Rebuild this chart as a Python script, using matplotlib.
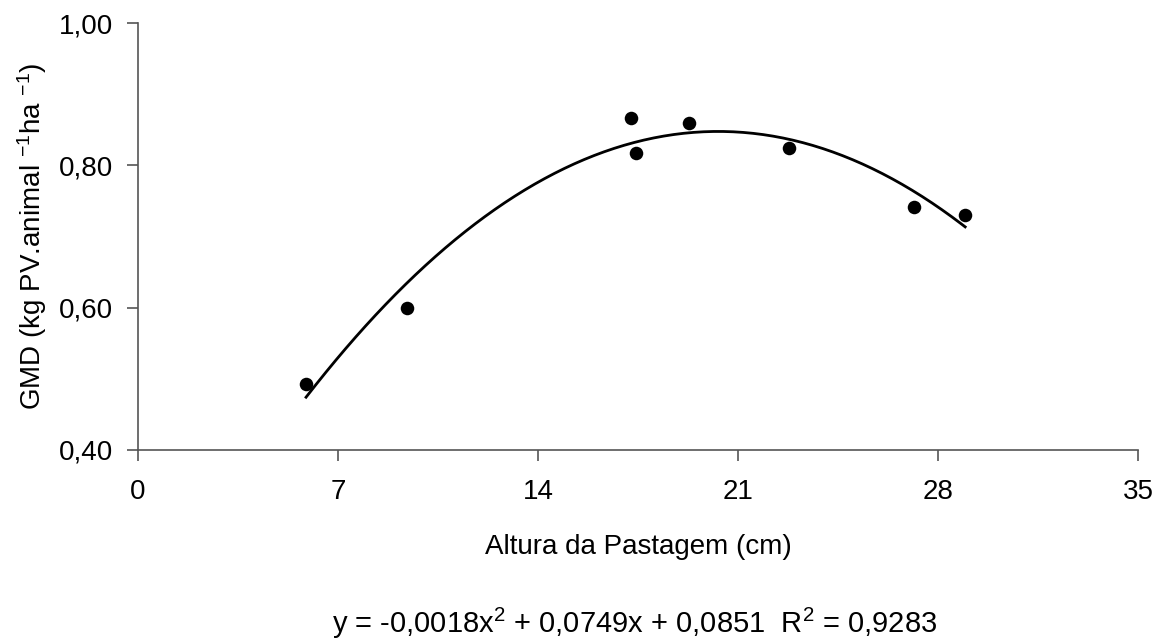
import numpy as np
import matplotlib
matplotlib.use("Agg")
import matplotlib.pyplot as plt
from matplotlib.ticker import FuncFormatter

plt.rcParams['font.family'] = ['Liberation Sans', 'DejaVu Sans']
plt.rcParams['mathtext.fontset'] = 'custom'
plt.rcParams['mathtext.rm'] = 'Liberation Sans'
plt.rcParams['mathtext.it'] = 'Liberation Sans'
plt.rcParams['mathtext.bf'] = 'Liberation Sans'

# Data
altura = [5.88, 9.42, 17.26, 17.43, 19.29, 22.79, 27.16, 28.95]
gmd = [0.493, 0.599, 0.867, 0.818, 0.859, 0.825, 0.741, 0.730]
x_ticks = [0, 7, 14, 21, 28, 35]
y_ticks = [0.40, 0.60, 0.80, 1.00]
equation = "y = -0,0018x$^2$ + 0,0749x + 0,0851  R$^2$ = 0,9283"

fig = plt.figure(figsize=(11.64, 6.39), dpi=100)
ax = fig.add_axes([0.1186, 0.2958, 0.8591, 0.6682])

# polynomial trendline (order 2) fitted to the data
coef = np.polyfit(altura, gmd, 2)
xs = np.linspace(min(altura), max(altura), 200)
ax.plot(xs, np.polyval(coef, xs), color='black', lw=2)
ax.scatter(altura, gmd, s=95, color='black', zorder=3, linewidths=0)

ax.set_xlim(0, 35)
ax.set_ylim(0.40, 1.00)
ax.set_xticks(x_ticks)
ax.set_yticks(y_ticks)
ax.yaxis.set_major_formatter(FuncFormatter(lambda v, p: f"{v:.2f}".replace('.', ',')))
for s in ['top', 'right']:
    ax.spines[s].set_visible(False)
for s in ['left', 'bottom']:
    ax.spines[s].set_color('#555555')
    ax.spines[s].set_linewidth(1.2)
ax.tick_params(direction='out', length=8, width=1.2, color='#555555', labelsize=20)
ax.tick_params(axis='x', pad=13)
ax.tick_params(axis='y', pad=10)

ax.set_xlabel("Altura da Pastagem (cm)", fontsize=20, labelpad=21)
ax.set_ylabel("GMD (kg PV.animal $^{-1}$ha $^{-1}$)", fontsize=20, labelpad=7)

fig.text(0.545, 0.0094, equation, ha='center', va='baseline', fontsize=21)

fig.savefig("out.png", dpi=100)
